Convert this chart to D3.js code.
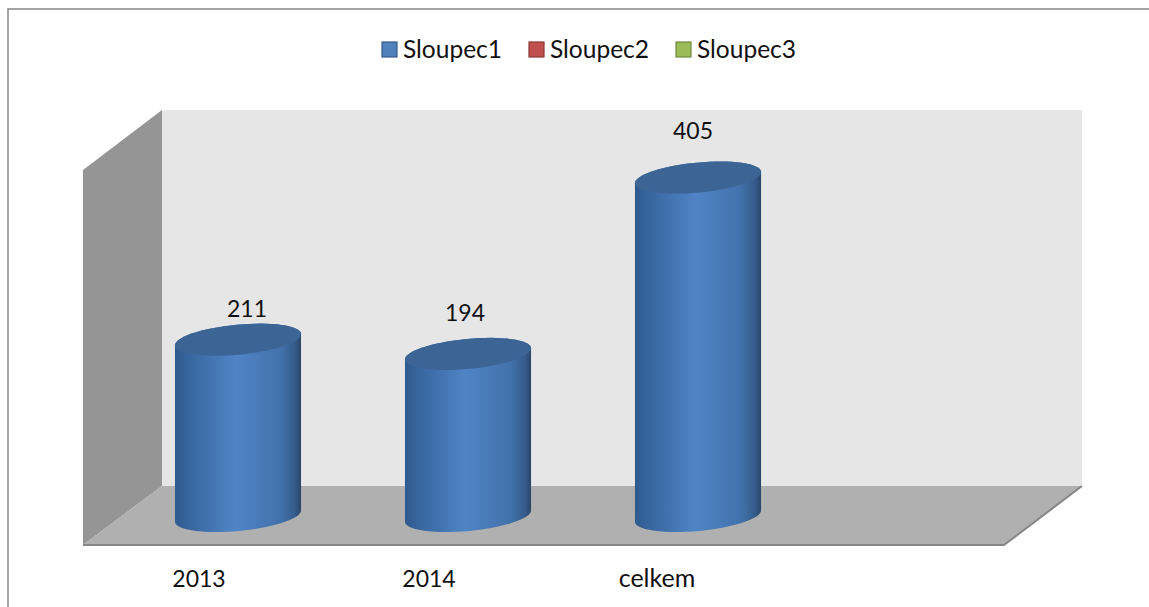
<!DOCTYPE html>
<html lang="cs">
<head>
<meta charset="utf-8">
<title>Sloupec1</title>
<script src="https://cdnjs.cloudflare.com/ajax/libs/d3/7.8.5/d3.min.js"></script>
<style>
  html, body { margin: 0; padding: 0; background: #fff; overflow: hidden; }
  svg { display: block; }
  text { font-family: Lato, "Noto Sans", sans-serif; fill: #111; }
</style>
</head>
<body>
<script>
var categories = ["2013", "2014", "celkem", ""];
var values = [211, 194, 405];
var seriesNames = ["Sloupec1", "Sloupec2", "Sloupec3"];
var seriesFill = ["#4f81bd", "#c0504d", "#9bbb59"];
var seriesEdge = ["#385d8a", "#8c3836", "#71893f"];

var width = 1149, height = 607;
var svg = d3.select("body").append("svg").attr("width", width).attr("height", height);

// the box the excel chart sits in, right and bottom sides are cut off in the picture
svg.append("rect").attr("x", 8).attr("y", 9).attr("width", 1160).attr("height", 640)
  .attr("fill", "#fff").attr("stroke", "#868686").attr("stroke-width", 1.5);

var defs = svg.append("defs");
var grad = defs.append("linearGradient").attr("id", "cyl");
grad.append("stop").attr("offset", "0%").attr("stop-color", "#2f5a8e");
grad.append("stop").attr("offset", "18%").attr("stop-color", "#3c6ca6");
grad.append("stop").attr("offset", "48%").attr("stop-color", "#5084c6");
grad.append("stop").attr("offset", "84%").attr("stop-color", "#4272ab");
grad.append("stop").attr("offset", "95%").attr("stop-color", "#355c8c");
grad.append("stop").attr("offset", "100%").attr("stop-color", "#2a4669");

// scales, the 4th empty category keeps the free space on the right
var x = d3.scaleBand().domain(categories).range([123, 1043]).paddingInner(0.452).paddingOuter(0.226);
var y = d3.scaleLinear().domain([0, 450]).range([516, 140]);

// 3d walls
var line = d3.line();
svg.append("path").attr("fill", "#e6e6e6")
  .attr("d", line([[162, 110], [1082, 110], [1082, 486], [162, 486]]) + "Z");
svg.append("path").attr("fill", "#959595")
  .attr("d", line([[83, 170], [162, 110], [162, 486], [83, 545]]) + "Z");
svg.append("path").attr("fill", "#b0b0b0").attr("stroke", "none")
  .attr("d", line([[83, 545], [162, 486], [1082, 486], [1004, 545]]) + "Z");
svg.append("path").attr("fill", "none").attr("stroke", "#868686").attr("stroke-width", 2)
  .attr("d", line([[83, 545], [1004, 545], [1082, 486]]));

// cylinders, outline is two tilted ellipses joined by the sides
var rx = x.bandwidth() / 2 + 0.3, ry = 15, tilt = -5.4;
function ellipsePt(cx, cy, t) {
  var a = tilt * Math.PI / 180;
  var ex = rx * Math.cos(t), ey = ry * Math.sin(t);
  return [cx + ex * Math.cos(a) - ey * Math.sin(a), cy + ex * Math.sin(a) + ey * Math.cos(a)];
}
function topPath(cx, cy) {
  var pts = d3.range(0, 64).map(function (i) { return ellipsePt(cx, cy, i / 64 * 2 * Math.PI); });
  return line(pts) + "Z";
}
function bodyPath(cx, yTop, yBase) {
  var bottom = d3.range(0, 33).map(function (i) { return ellipsePt(cx, yBase, i / 32 * Math.PI); });
  var top = d3.range(0, 33).map(function (i) { return ellipsePt(cx, yTop, Math.PI + i / 32 * Math.PI); });
  return line(bottom.concat(top)) + "Z";
}
function barCenter(i) { return x(categories[i]) + x.bandwidth() / 2; }

var bars = svg.selectAll("g.bar").data(values).enter().append("g").attr("class", "bar");
bars.append("path").attr("fill", "url(#cyl)")
  .attr("d", function (d, i) { return bodyPath(barCenter(i), y(d), y(0)); });
bars.append("path").attr("fill", "#3c6595")
  .attr("d", function (d, i) { return topPath(barCenter(i), y(d)); });

// value labels, excel moved them around a bit
var valDx = [9, -3, -5], valDy = [-23, -33, -39];
svg.selectAll("text.val").data(values).enter().append("text").attr("class", "val")
  .attr("x", function (d, i) { return barCenter(i) + valDx[i]; })
  .attr("y", function (d, i) { return y(d) + valDy[i]; })
  .attr("text-anchor", "middle").attr("font-size", 23)
  .text(function (d) { return d; });

// category labels sit left of the bars, on the front edge of the floor
var catDx = [-39, -39, -41], catSize = [23, 23, 25];
svg.selectAll("text.cat").data(categories.slice(0, 3)).enter().append("text").attr("class", "cat")
  .attr("x", function (d, i) { return barCenter(i) + catDx[i]; })
  .attr("y", 587).attr("text-anchor", "middle")
  .attr("font-size", function (d, i) { return catSize[i]; })
  .text(function (d) { return d; });

// legend
var legX = [382, 529, 676];
var leg = svg.selectAll("g.leg").data(seriesNames).enter().append("g").attr("class", "leg")
  .attr("transform", function (d, i) { return "translate(" + legX[i] + ",42)"; });
leg.append("rect").attr("width", 15).attr("height", 15)
  .attr("fill", function (d, i) { return seriesFill[i]; })
  .attr("stroke", function (d, i) { return seriesEdge[i]; }).attr("stroke-width", 1.2);
leg.append("text").attr("x", 21).attr("y", 15.5).attr("font-size", 24.5).text(function (d) { return d; });
</script>
</body>
</html>
